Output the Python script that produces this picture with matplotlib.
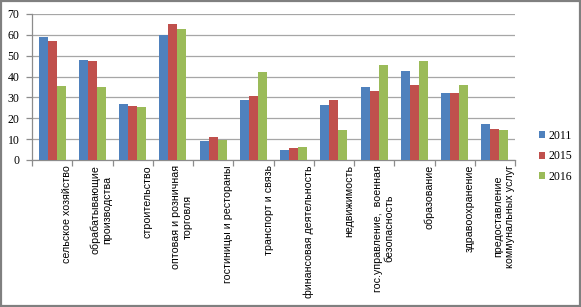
import numpy as np
import matplotlib.pyplot as plt
from matplotlib.patches import Rectangle

# отрасли
categories = [
    'сельское хозяйство',
    'обрабатывающие\nпроизводства',
    'строительство',
    'оптовая и розничная\nторговля',
    'гостиницы и рестораны',
    'транспорт и связь',
    'финансовая деятельность',
    'недвижимость',
    'гос.управление,  военная\nбезопасность',
    'образование',
    'здравоохранение',
    'предоставление\nкоммунальных услуг',
]
years = ['2011', '2015', '2016']
v2011 = [59, 48, 27, 60, 9, 29, 5, 26.3, 35, 42.7, 32, 17.2]
v2015 = [57, 47.5, 26, 65, 11, 30.5, 5.7, 28.7, 33.2, 36, 32, 14.8]
v2016 = [35.5, 35, 25.5, 63, 9.5, 42, 6, 14.2, 45.5, 47.7, 36, 14.6]
colors = ['#4F81BD', '#C0504D', '#9BBB59']

W, H = 581, 307
fig = plt.figure(figsize=(W / 100, H / 100), dpi=100)
ax = fig.add_axes([32 / W, (H - 160) / H, 483 / W, (160 - 14) / H])

x = np.arange(len(categories))
bw = 0.223
for k, (vals, c, lab) in enumerate(zip([v2011, v2015, v2016], colors, years)):
    ax.bar(x + (k - 1) * bw, vals, bw, color=c, label=lab, zorder=3)

ax.set_xlim(-0.5, len(categories) - 0.5)
ax.set_ylim(0, 70)
ax.set_yticks(range(0, 71, 10))
ax.yaxis.grid(True, color='#a6a6a6', linewidth=0.9, zorder=0)
for s in ['top', 'right']:
    ax.spines[s].set_visible(False)
for s in ['left', 'bottom']:
    ax.spines[s].set_color('#8c8c8c')
    ax.spines[s].set_linewidth(0.9)

ax.set_xticks(np.arange(len(categories) + 1) - 0.5)
ax.set_xticklabels([])
ax.tick_params(axis='x', length=4, color='#8c8c8c', width=0.9)
ax.tick_params(axis='y', length=4, color='#8c8c8c', width=0.9, pad=5,
               labelsize=8.5)
for t in ax.get_yticklabels():
    t.set_family('Liberation Serif')

# подписи категорий: повернуты, правый край у границы категории
for i, name in enumerate(categories):
    ax.text(i + 0.5, -2.4, name, rotation=90, ha='right', va='top',
            multialignment='center', fontsize=7.7, family='Liberation Sans',
            linespacing=1.2, transform=ax.transData)

leg = fig.legend(loc='upper left', bbox_to_anchor=(528 / W, 1 - 119 / H),
                 frameon=False, prop={'family': 'Liberation Serif', 'size': 8.5},
                 handlelength=0.55, handleheight=0.55, handletextpad=0.3,
                 labelspacing=0.74)

fig.patches.append(Rectangle((0.002, 0.004), 0.996, 0.992, transform=fig.transFigure,
                             fill=False, edgecolor='#808080', linewidth=1.6))

fig.savefig('out.png', dpi=100)
